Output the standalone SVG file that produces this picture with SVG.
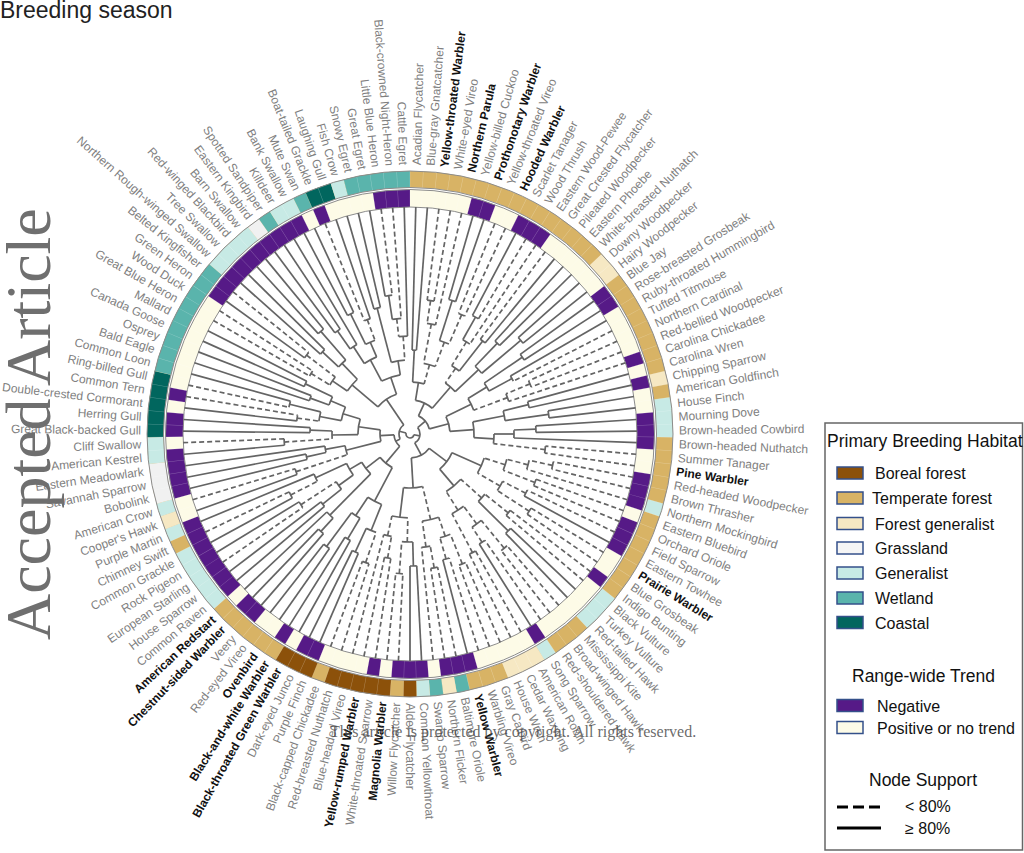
<svg xmlns="http://www.w3.org/2000/svg" width="1024" height="853" viewBox="0 0 1024 853">
<style>
text{font-family:"Liberation Sans",Arial,Helvetica,sans-serif}
.lb text{font-size:12px;fill:#808080;dominant-baseline:central}
.lb .b{fill:#111;font-weight:bold}
.lb .L{text-anchor:end}
.t path,.t circle{fill:none;stroke:#646464;stroke-width:1.7}
.t .d{stroke-dasharray:5 3}
.lg text{font-size:16px;fill:#111}
.lg .h{font-size:17.5px}
.lg .k{stroke:#34508a;stroke-width:1.5}
</style>
<rect width="1024" height="853" fill="#fff"/>
<text x="0" y="18" font-size="23" fill="#222">Breeding season</text>

<g id="rings" transform="translate(410 434) rotate(-90)" fill="none">
<circle r="254.75" stroke="#d8b365" stroke-width="16.5"/>
<g stroke-width="16.5">
<circle r="254.75" pathLength="123" stroke="#f6e8c3" stroke-dasharray="2 200" stroke-dashoffset="-16"/>
<circle r="254.75" pathLength="123" stroke="#f6e8c3" stroke-dasharray="1 200" stroke-dashoffset="-26"/>
<circle r="254.75" pathLength="123" stroke="#c7eae5" stroke-dasharray="3 200" stroke-dashoffset="-28"/>
<circle r="254.75" pathLength="123" stroke="#c7eae5" stroke-dasharray="1 200" stroke-dashoffset="-36"/>
<circle r="254.75" pathLength="123" stroke="#c7eae5" stroke-dasharray="3 200" stroke-dashoffset="-44"/>
<circle r="254.75" pathLength="123" stroke="#c7eae5" stroke-dasharray="1 200" stroke-dashoffset="-50"/>
<circle r="254.75" pathLength="123" stroke="#f6e8c3" stroke-dasharray="3 200" stroke-dashoffset="-51"/>
<circle r="254.75" pathLength="123" stroke="#5ab4ac" stroke-dasharray="1 200" stroke-dashoffset="-57"/>
<circle r="254.75" pathLength="123" stroke="#f6e8c3" stroke-dasharray="1 200" stroke-dashoffset="-58"/>
<circle r="254.75" pathLength="123" stroke="#5ab4ac" stroke-dasharray="1 200" stroke-dashoffset="-59"/>
<circle r="254.75" pathLength="123" stroke="#c7eae5" stroke-dasharray="1 200" stroke-dashoffset="-60"/>
<circle r="254.75" pathLength="123" stroke="#8c510a" stroke-dasharray="1 200" stroke-dashoffset="-61"/>
<circle r="254.75" pathLength="123" stroke="#8c510a" stroke-dasharray="5 200" stroke-dashoffset="-63"/>
<circle r="254.75" pathLength="123" stroke="#8c510a" stroke-dasharray="3 200" stroke-dashoffset="-69"/>
<circle r="254.75" pathLength="123" stroke="#c7eae5" stroke-dasharray="5 200" stroke-dashoffset="-78"/>
<circle r="254.75" pathLength="123" stroke="#c7eae5" stroke-dasharray="1 200" stroke-dashoffset="-84"/>
<circle r="254.75" pathLength="123" stroke="#f6e8c3" stroke-dasharray="1 200" stroke-dashoffset="-85"/>
<circle r="254.75" pathLength="123" stroke="#c7eae5" stroke-dasharray="1 200" stroke-dashoffset="-86"/>
<circle r="254.75" pathLength="123" stroke="#f1f1f1" stroke-dasharray="3 200" stroke-dashoffset="-87"/>
<circle r="254.75" pathLength="123" stroke="#c7eae5" stroke-dasharray="2 200" stroke-dashoffset="-90"/>
<circle r="254.75" pathLength="123" stroke="#01665e" stroke-dasharray="5 200" stroke-dashoffset="-92"/>
<circle r="254.75" pathLength="123" stroke="#5ab4ac" stroke-dasharray="9 200" stroke-dashoffset="-97"/>
<circle r="254.75" pathLength="123" stroke="#c7eae5" stroke-dasharray="4 200" stroke-dashoffset="-106"/>
<circle r="254.75" pathLength="123" stroke="#f1f1f1" stroke-dasharray="1 200" stroke-dashoffset="-110"/>
<circle r="254.75" pathLength="123" stroke="#5ab4ac" stroke-dasharray="1 200" stroke-dashoffset="-111"/>
<circle r="254.75" pathLength="123" stroke="#c7eae5" stroke-dasharray="2 200" stroke-dashoffset="-112"/>
<circle r="254.75" pathLength="123" stroke="#5ab4ac" stroke-dasharray="1 200" stroke-dashoffset="-114"/>
<circle r="254.75" pathLength="123" stroke="#01665e" stroke-dasharray="2 200" stroke-dashoffset="-115"/>
<circle r="254.75" pathLength="123" stroke="#c7eae5" stroke-dasharray="1 200" stroke-dashoffset="-117"/>
<circle r="254.75" pathLength="123" stroke="#5ab4ac" stroke-dasharray="5 200" stroke-dashoffset="-118"/>
</g>
<circle r="235.75" stroke="#fdfbe7" stroke-width="17.5"/>
<g stroke-width="17.5" stroke="#561a87">
<circle r="235.75" pathLength="123" stroke-dasharray="2 200" stroke-dashoffset="-5"/>
<circle r="235.75" pathLength="123" stroke-dasharray="3 200" stroke-dashoffset="-9"/>
<circle r="235.75" pathLength="123" stroke-dasharray="2 200" stroke-dashoffset="-18"/>
<circle r="235.75" pathLength="123" stroke-dasharray="1 200" stroke-dashoffset="-24"/>
<circle r="235.75" pathLength="123" stroke-dasharray="1 200" stroke-dashoffset="-26"/>
<circle r="235.75" pathLength="123" stroke-dasharray="3 200" stroke-dashoffset="-29"/>
<circle r="235.75" pathLength="123" stroke-dasharray="3 200" stroke-dashoffset="-34"/>
<circle r="235.75" pathLength="123" stroke-dasharray="3 200" stroke-dashoffset="-38"/>
<circle r="235.75" pathLength="123" stroke-dasharray="1 200" stroke-dashoffset="-43"/>
<circle r="235.75" pathLength="123" stroke-dasharray="1 200" stroke-dashoffset="-50"/>
<circle r="235.75" pathLength="123" stroke-dasharray="3 200" stroke-dashoffset="-56"/>
<circle r="235.75" pathLength="123" stroke-dasharray="3 200" stroke-dashoffset="-60"/>
<circle r="235.75" pathLength="123" stroke-dasharray="1 200" stroke-dashoffset="-64"/>
<circle r="235.75" pathLength="123" stroke-dasharray="2 200" stroke-dashoffset="-69"/>
<circle r="235.75" pathLength="123" stroke-dasharray="1 200" stroke-dashoffset="-72"/>
<circle r="235.75" pathLength="123" stroke-dasharray="2 200" stroke-dashoffset="-75"/>
<circle r="235.75" pathLength="123" stroke-dasharray="7 200" stroke-dashoffset="-78"/>
<circle r="235.75" pathLength="123" stroke-dasharray="4 200" stroke-dashoffset="-87"/>
<circle r="235.75" pathLength="123" stroke-dasharray="2 200" stroke-dashoffset="-92"/>
<circle r="235.75" pathLength="123" stroke-dasharray="1 200" stroke-dashoffset="-95"/>
<circle r="235.75" pathLength="123" stroke-dasharray="10 200" stroke-dashoffset="-104"/>
<circle r="235.75" pathLength="123" stroke-dasharray="1 200" stroke-dashoffset="-115"/>
<circle r="235.75" pathLength="123" stroke-dasharray="3 200" stroke-dashoffset="-120"/>
</g>
<circle r="254.75" pathLength="123" stroke="#fff" stroke-opacity=".3" stroke-width="16.5" stroke-dasharray="0.04 0.96" stroke-dashoffset="0.02"/>
<circle r="235.75" pathLength="123" stroke="#fff" stroke-opacity=".3" stroke-width="17.5" stroke-dasharray="0.04 0.96" stroke-dashoffset="0.02"/>
<g stroke="#8c8c8c" stroke-width="1">
<circle r="263"/><circle r="246.5"/><circle r="244.5"/><circle r="227"/>
</g>
</g>

<g id="connectors" class="t" transform="translate(410 434) rotate(1.4634)">
<g transform="rotate(-90)">
<circle r="84" pathLength="123" stroke-dasharray="1 200" stroke-dashoffset="0"/>
<circle r="135" pathLength="123" stroke-dasharray="1 200" stroke-dashoffset="-2"/>
<circle r="112" pathLength="123" stroke-dasharray="1.5 200" stroke-dashoffset="-2.5"/>
<circle r="140" pathLength="123" stroke-dasharray="1 200" stroke-dashoffset="-5"/>
<circle r="130" pathLength="123" stroke-dasharray="1 200" stroke-dashoffset="-7"/>
<circle r="98" pathLength="123" stroke-dasharray="2 200" stroke-dashoffset="-5.5"/>
<circle r="72" pathLength="123" stroke-dasharray="3.25 200" stroke-dashoffset="-3.25"/>
<circle r="52" pathLength="123" stroke-dasharray="4.375 200" stroke-dashoffset="-0.5"/>
<circle r="134" pathLength="123" stroke-dasharray="1 200" stroke-dashoffset="-9"/>
<circle r="108" pathLength="123" stroke-dasharray="1.5 200" stroke-dashoffset="-9.5"/>
<circle r="118" pathLength="123" stroke-dasharray="1 200" stroke-dashoffset="-12"/>
<circle r="80" pathLength="123" stroke-dasharray="2.25 200" stroke-dashoffset="-10.25"/>
<circle r="126" pathLength="123" stroke-dasharray="1 200" stroke-dashoffset="-14"/>
<circle r="145" pathLength="123" stroke-dasharray="1 200" stroke-dashoffset="-16"/>
<circle r="94" pathLength="123" stroke-dasharray="2 200" stroke-dashoffset="-14.5"/>
<circle r="62" pathLength="123" stroke-dasharray="4.125 200" stroke-dashoffset="-11.375"/>
<circle r="34" pathLength="123" stroke-dasharray="10.75 200" stroke-dashoffset="-2.6875"/>
<circle r="136" pathLength="123" stroke-dasharray="1 200" stroke-dashoffset="-18"/>
<circle r="116" pathLength="123" stroke-dasharray="1 200" stroke-dashoffset="-20"/>
<circle r="90" pathLength="123" stroke-dasharray="2 200" stroke-dashoffset="-18.5"/>
<circle r="130" pathLength="123" stroke-dasharray="1 200" stroke-dashoffset="-22"/>
<circle r="104" pathLength="123" stroke-dasharray="1.5 200" stroke-dashoffset="-22.5"/>
<circle r="68" pathLength="123" stroke-dasharray="3.75 200" stroke-dashoffset="-19.5"/>
<circle r="122" pathLength="123" stroke-dasharray="1 200" stroke-dashoffset="-25"/>
<circle r="140" pathLength="123" stroke-dasharray="1 200" stroke-dashoffset="-27"/>
<circle r="96" pathLength="123" stroke-dasharray="2 200" stroke-dashoffset="-25.5"/>
<circle r="126" pathLength="123" stroke-dasharray="1 200" stroke-dashoffset="-29"/>
<circle r="104" pathLength="123" stroke-dasharray="1.5 200" stroke-dashoffset="-29.5"/>
<circle r="136" pathLength="123" stroke-dasharray="1 200" stroke-dashoffset="-32"/>
<circle r="84" pathLength="123" stroke-dasharray="2.25 200" stroke-dashoffset="-30.25"/>
<circle r="64" pathLength="123" stroke-dasharray="4.875 200" stroke-dashoffset="-26.5"/>
<circle r="40" pathLength="123" stroke-dasharray="7.5625 200" stroke-dashoffset="-21.375"/>
<circle r="146" pathLength="123" stroke-dasharray="1 200" stroke-dashoffset="-34"/>
<circle r="122" pathLength="123" stroke-dasharray="1.5 200" stroke-dashoffset="-34.5"/>
<circle r="134" pathLength="123" stroke-dasharray="1 200" stroke-dashoffset="-37"/>
<circle r="100" pathLength="123" stroke-dasharray="2.25 200" stroke-dashoffset="-35.25"/>
<circle r="130" pathLength="123" stroke-dasharray="1 200" stroke-dashoffset="-39"/>
<circle r="142" pathLength="123" stroke-dasharray="1 200" stroke-dashoffset="-41"/>
<circle r="104" pathLength="123" stroke-dasharray="2 200" stroke-dashoffset="-39.5"/>
<circle r="78" pathLength="123" stroke-dasharray="4.125 200" stroke-dashoffset="-36.375"/>
<circle r="126" pathLength="123" stroke-dasharray="1 200" stroke-dashoffset="-43"/>
<circle r="138" pathLength="123" stroke-dasharray="1 200" stroke-dashoffset="-45"/>
<circle r="96" pathLength="123" stroke-dasharray="2 200" stroke-dashoffset="-43.5"/>
<circle r="148" pathLength="123" stroke-dasharray="1 200" stroke-dashoffset="-47"/>
<circle r="130" pathLength="123" stroke-dasharray="1 200" stroke-dashoffset="-49"/>
<circle r="112" pathLength="123" stroke-dasharray="2 200" stroke-dashoffset="-47.5"/>
<circle r="134" pathLength="123" stroke-dasharray="1 200" stroke-dashoffset="-51"/>
<circle r="90" pathLength="123" stroke-dasharray="3 200" stroke-dashoffset="-48.5"/>
<circle r="68" pathLength="123" stroke-dasharray="5.5 200" stroke-dashoffset="-44.5"/>
<circle r="46" pathLength="123" stroke-dasharray="8.8125 200" stroke-dashoffset="-38.4375"/>
<circle r="140" pathLength="123" stroke-dasharray="1 200" stroke-dashoffset="-53"/>
<circle r="130" pathLength="123" stroke-dasharray="1 200" stroke-dashoffset="-55"/>
<circle r="108" pathLength="123" stroke-dasharray="2 200" stroke-dashoffset="-53.5"/>
<circle r="136" pathLength="123" stroke-dasharray="1 200" stroke-dashoffset="-57"/>
<circle r="114" pathLength="123" stroke-dasharray="1.5 200" stroke-dashoffset="-57.5"/>
<circle r="88" pathLength="123" stroke-dasharray="3.75 200" stroke-dashoffset="-54.5"/>
<circle r="132" pathLength="123" stroke-dasharray="1 200" stroke-dashoffset="-60"/>
<circle r="140" pathLength="123" stroke-dasharray="1 200" stroke-dashoffset="-62"/>
<circle r="108" pathLength="123" stroke-dasharray="2 200" stroke-dashoffset="-60.5"/>
<circle r="126" pathLength="123" stroke-dasharray="1 200" stroke-dashoffset="-64"/>
<circle r="104" pathLength="123" stroke-dasharray="1.5 200" stroke-dashoffset="-64.5"/>
<circle r="84" pathLength="123" stroke-dasharray="3.75 200" stroke-dashoffset="-61.5"/>
<circle r="54" pathLength="123" stroke-dasharray="7 200" stroke-dashoffset="-56.375"/>
<circle r="136" pathLength="123" stroke-dasharray="1 200" stroke-dashoffset="-67"/>
<circle r="130" pathLength="123" stroke-dasharray="1 200" stroke-dashoffset="-69"/>
<circle r="104" pathLength="123" stroke-dasharray="2 200" stroke-dashoffset="-67.5"/>
<circle r="122" pathLength="123" stroke-dasharray="1 200" stroke-dashoffset="-71"/>
<circle r="140" pathLength="123" stroke-dasharray="1 200" stroke-dashoffset="-73"/>
<circle r="98" pathLength="123" stroke-dasharray="2 200" stroke-dashoffset="-71.5"/>
<circle r="76" pathLength="123" stroke-dasharray="4 200" stroke-dashoffset="-68.5"/>
<circle r="132" pathLength="123" stroke-dasharray="1 200" stroke-dashoffset="-75"/>
<circle r="114" pathLength="123" stroke-dasharray="1.5 200" stroke-dashoffset="-75.5"/>
<circle r="112" pathLength="123" stroke-dasharray="1 200" stroke-dashoffset="-78"/>
<circle r="130" pathLength="123" stroke-dasharray="1 200" stroke-dashoffset="-80"/>
<circle r="88" pathLength="123" stroke-dasharray="2 200" stroke-dashoffset="-78.5"/>
<circle r="134" pathLength="123" stroke-dasharray="1 200" stroke-dashoffset="-82"/>
<circle r="104" pathLength="123" stroke-dasharray="1.5 200" stroke-dashoffset="-82.5"/>
<circle r="70" pathLength="123" stroke-dasharray="3.75 200" stroke-dashoffset="-79.5"/>
<circle r="56" pathLength="123" stroke-dasharray="5.125 200" stroke-dashoffset="-76.25"/>
<circle r="38" pathLength="123" stroke-dasharray="8.3125 200" stroke-dashoffset="-70.5"/>
<circle r="120" pathLength="123" stroke-dasharray="1 200" stroke-dashoffset="-85"/>
<circle r="106" pathLength="123" stroke-dasharray="1 200" stroke-dashoffset="-87"/>
<circle r="86" pathLength="123" stroke-dasharray="1.5 200" stroke-dashoffset="-87.5"/>
<circle r="66" pathLength="123" stroke-dasharray="2.75 200" stroke-dashoffset="-85.5"/>
<circle r="126" pathLength="123" stroke-dasharray="1 200" stroke-dashoffset="-90"/>
<circle r="100" pathLength="123" stroke-dasharray="1 200" stroke-dashoffset="-92"/>
<circle r="78" pathLength="123" stroke-dasharray="2 200" stroke-dashoffset="-90.5"/>
<circle r="114" pathLength="123" stroke-dasharray="1 200" stroke-dashoffset="-94"/>
<circle r="124" pathLength="123" stroke-dasharray="1 200" stroke-dashoffset="-96"/>
<circle r="92" pathLength="123" stroke-dasharray="2 200" stroke-dashoffset="-94.5"/>
<circle r="106" pathLength="123" stroke-dasharray="1 200" stroke-dashoffset="-98"/>
<circle r="116" pathLength="123" stroke-dasharray="1 200" stroke-dashoffset="-100"/>
<circle r="86" pathLength="123" stroke-dasharray="2 200" stroke-dashoffset="-98.5"/>
<circle r="70" pathLength="123" stroke-dasharray="4 200" stroke-dashoffset="-95.5"/>
<circle r="52" pathLength="123" stroke-dasharray="6 200" stroke-dashoffset="-91.5"/>
<circle r="30" pathLength="123" stroke-dasharray="7.625 200" stroke-dashoffset="-86.875"/>
<circle r="116" pathLength="123" stroke-dasharray="1 200" stroke-dashoffset="-102"/>
<circle r="130" pathLength="123" stroke-dasharray="1 200" stroke-dashoffset="-104"/>
<circle r="94" pathLength="123" stroke-dasharray="2 200" stroke-dashoffset="-102.5"/>
<circle r="120" pathLength="123" stroke-dasharray="1 200" stroke-dashoffset="-106"/>
<circle r="136" pathLength="123" stroke-dasharray="1 200" stroke-dashoffset="-108"/>
<circle r="98" pathLength="123" stroke-dasharray="2 200" stroke-dashoffset="-106.5"/>
<circle r="76" pathLength="123" stroke-dasharray="4 200" stroke-dashoffset="-103.5"/>
<circle r="126" pathLength="123" stroke-dasharray="1 200" stroke-dashoffset="-110"/>
<circle r="104" pathLength="123" stroke-dasharray="1.5 200" stroke-dashoffset="-110.5"/>
<circle r="134" pathLength="123" stroke-dasharray="1 200" stroke-dashoffset="-113"/>
<circle r="122" pathLength="123" stroke-dasharray="1 200" stroke-dashoffset="-115"/>
<circle r="100" pathLength="123" stroke-dasharray="2 200" stroke-dashoffset="-113.5"/>
<circle r="84" pathLength="123" stroke-dasharray="3.25 200" stroke-dashoffset="-111.25"/>
<circle r="130" pathLength="123" stroke-dasharray="1 200" stroke-dashoffset="-117"/>
<circle r="140" pathLength="123" stroke-dasharray="1 200" stroke-dashoffset="-119"/>
<circle r="116" pathLength="123" stroke-dasharray="1.5 200" stroke-dashoffset="-119.5"/>
<circle r="98" pathLength="123" stroke-dasharray="1.75 200" stroke-dashoffset="-120.25"/>
<circle r="74" pathLength="123" stroke-dasharray="3.625 200" stroke-dashoffset="-117.5"/>
<circle r="60" pathLength="123" stroke-dasharray="6.4375 200" stroke-dashoffset="-112.875"/>
<circle r="42" pathLength="123" stroke-dasharray="10.59375 200" stroke-dashoffset="-105.5"/>
<circle r="20" pathLength="123" stroke-dasharray="17.09375 200" stroke-dashoffset="-8.0625"/>
<circle r="24" pathLength="123" stroke-dasharray="17.03125 200" stroke-dashoffset="-42.84375"/>
<circle r="10" pathLength="123" stroke-dasharray="34.75 200" stroke-dashoffset="-16.609375"/>
<circle r="16" pathLength="123" stroke-dasharray="16.03125 200" stroke-dashoffset="-74.65625"/>
<circle r="11" pathLength="123" stroke-dasharray="28.125 200" stroke-dashoffset="-82.671875"/>
<circle r="4" pathLength="123" stroke-dasharray="62.75 200" stroke-dashoffset="-33.984375"/>
</g>
<path d="M0-227V-84"/>
<path transform="rotate(2.927)" d="M0-227V-84"/>
<path class="d" transform="rotate(5.854)" d="M0-227V-135"/>
<path class="d" transform="rotate(8.780)" d="M0-227V-135"/>
<path class="d" transform="rotate(11.707)" d="M0-227V-112"/>
<path transform="rotate(14.634)" d="M0-227V-140"/>
<path transform="rotate(17.561)" d="M0-227V-140"/>
<path class="d" transform="rotate(20.488)" d="M0-227V-130"/>
<path class="d" transform="rotate(23.415)" d="M0-227V-130"/>
<path transform="rotate(26.341)" d="M0-227V-134"/>
<path class="d" transform="rotate(29.268)" d="M0-227V-134"/>
<path class="d" transform="rotate(32.195)" d="M0-227V-108"/>
<path class="d" transform="rotate(35.122)" d="M0-227V-118"/>
<path transform="rotate(38.049)" d="M0-227V-118"/>
<path transform="rotate(40.976)" d="M0-227V-126"/>
<path transform="rotate(43.902)" d="M0-227V-126"/>
<path transform="rotate(46.829)" d="M0-227V-145"/>
<path transform="rotate(49.756)" d="M0-227V-145"/>
<path transform="rotate(52.683)" d="M0-227V-136"/>
<path transform="rotate(55.610)" d="M0-227V-136"/>
<path transform="rotate(58.537)" d="M0-227V-116"/>
<path class="d" transform="rotate(61.463)" d="M0-227V-116"/>
<path class="d" transform="rotate(64.390)" d="M0-227V-130"/>
<path class="d" transform="rotate(67.317)" d="M0-227V-130"/>
<path class="d" transform="rotate(70.244)" d="M0-227V-104"/>
<path transform="rotate(73.171)" d="M0-227V-122"/>
<path transform="rotate(76.098)" d="M0-227V-122"/>
<path transform="rotate(79.024)" d="M0-227V-140"/>
<path transform="rotate(81.951)" d="M0-227V-140"/>
<path transform="rotate(84.878)" d="M0-227V-126"/>
<path transform="rotate(87.805)" d="M0-227V-126"/>
<path transform="rotate(90.732)" d="M0-227V-104"/>
<path class="d" transform="rotate(93.659)" d="M0-227V-136"/>
<path class="d" transform="rotate(96.585)" d="M0-227V-136"/>
<path class="d" transform="rotate(99.512)" d="M0-227V-146"/>
<path class="d" transform="rotate(102.439)" d="M0-227V-146"/>
<path class="d" transform="rotate(105.366)" d="M0-227V-122"/>
<path class="d" transform="rotate(108.293)" d="M0-227V-134"/>
<path class="d" transform="rotate(111.220)" d="M0-227V-134"/>
<path class="d" transform="rotate(114.146)" d="M0-227V-130"/>
<path transform="rotate(117.073)" d="M0-227V-130"/>
<path class="d" transform="rotate(120)" d="M0-227V-142"/>
<path class="d" transform="rotate(122.927)" d="M0-227V-142"/>
<path class="d" transform="rotate(125.854)" d="M0-227V-126"/>
<path class="d" transform="rotate(128.780)" d="M0-227V-126"/>
<path transform="rotate(131.707)" d="M0-227V-138"/>
<path transform="rotate(134.634)" d="M0-227V-138"/>
<path class="d" transform="rotate(137.561)" d="M0-227V-148"/>
<path class="d" transform="rotate(140.488)" d="M0-227V-148"/>
<path class="d" transform="rotate(143.415)" d="M0-227V-130"/>
<path transform="rotate(146.341)" d="M0-227V-130"/>
<path class="d" transform="rotate(149.268)" d="M0-227V-134"/>
<path class="d" transform="rotate(152.195)" d="M0-227V-134"/>
<path class="d" transform="rotate(155.122)" d="M0-227V-140"/>
<path class="d" transform="rotate(158.049)" d="M0-227V-140"/>
<path class="d" transform="rotate(160.976)" d="M0-227V-130"/>
<path transform="rotate(163.902)" d="M0-227V-130"/>
<path class="d" transform="rotate(166.829)" d="M0-227V-136"/>
<path class="d" transform="rotate(169.756)" d="M0-227V-136"/>
<path class="d" transform="rotate(172.683)" d="M0-227V-114"/>
<path transform="rotate(175.610)" d="M0-227V-132"/>
<path transform="rotate(178.537)" d="M0-227V-132"/>
<path class="d" transform="rotate(181.463)" d="M0-227V-140"/>
<path class="d" transform="rotate(184.390)" d="M0-227V-140"/>
<path class="d" transform="rotate(187.317)" d="M0-227V-126"/>
<path class="d" transform="rotate(190.244)" d="M0-227V-126"/>
<path class="d" transform="rotate(193.171)" d="M0-227V-104"/>
<path class="d" transform="rotate(196.098)" d="M0-227V-136"/>
<path class="d" transform="rotate(199.024)" d="M0-227V-136"/>
<path transform="rotate(201.951)" d="M0-227V-130"/>
<path transform="rotate(204.878)" d="M0-227V-130"/>
<path transform="rotate(207.805)" d="M0-227V-122"/>
<path transform="rotate(210.732)" d="M0-227V-122"/>
<path transform="rotate(213.659)" d="M0-227V-140"/>
<path transform="rotate(216.585)" d="M0-227V-140"/>
<path transform="rotate(219.512)" d="M0-227V-132"/>
<path transform="rotate(222.439)" d="M0-227V-132"/>
<path transform="rotate(225.366)" d="M0-227V-114"/>
<path transform="rotate(228.293)" d="M0-227V-112"/>
<path transform="rotate(231.220)" d="M0-227V-112"/>
<path class="d" transform="rotate(234.146)" d="M0-227V-130"/>
<path transform="rotate(237.073)" d="M0-227V-130"/>
<path transform="rotate(240)" d="M0-227V-134"/>
<path class="d" transform="rotate(242.927)" d="M0-227V-134"/>
<path transform="rotate(245.854)" d="M0-227V-104"/>
<path transform="rotate(248.780)" d="M0-227V-120"/>
<path class="d" transform="rotate(251.707)" d="M0-227V-120"/>
<path transform="rotate(254.634)" d="M0-227V-106"/>
<path transform="rotate(257.561)" d="M0-227V-106"/>
<path transform="rotate(260.488)" d="M0-227V-86"/>
<path transform="rotate(263.415)" d="M0-227V-126"/>
<path class="d" transform="rotate(266.341)" d="M0-227V-126"/>
<path transform="rotate(269.268)" d="M0-227V-100"/>
<path transform="rotate(272.195)" d="M0-227V-100"/>
<path transform="rotate(275.122)" d="M0-227V-114"/>
<path class="d" transform="rotate(278.049)" d="M0-227V-114"/>
<path class="d" transform="rotate(280.976)" d="M0-227V-124"/>
<path transform="rotate(283.902)" d="M0-227V-124"/>
<path transform="rotate(286.829)" d="M0-227V-106"/>
<path transform="rotate(289.756)" d="M0-227V-106"/>
<path transform="rotate(292.683)" d="M0-227V-116"/>
<path transform="rotate(295.610)" d="M0-227V-116"/>
<path class="d" transform="rotate(298.537)" d="M0-227V-116"/>
<path class="d" transform="rotate(301.463)" d="M0-227V-116"/>
<path transform="rotate(304.390)" d="M0-227V-130"/>
<path class="d" transform="rotate(307.317)" d="M0-227V-130"/>
<path transform="rotate(310.244)" d="M0-227V-120"/>
<path transform="rotate(313.171)" d="M0-227V-120"/>
<path transform="rotate(316.098)" d="M0-227V-136"/>
<path transform="rotate(319.024)" d="M0-227V-136"/>
<path transform="rotate(321.951)" d="M0-227V-126"/>
<path transform="rotate(324.878)" d="M0-227V-126"/>
<path transform="rotate(327.805)" d="M0-227V-104"/>
<path transform="rotate(330.732)" d="M0-227V-134"/>
<path transform="rotate(333.659)" d="M0-227V-134"/>
<path class="d" transform="rotate(336.585)" d="M0-227V-122"/>
<path transform="rotate(339.512)" d="M0-227V-122"/>
<path transform="rotate(342.439)" d="M0-227V-130"/>
<path transform="rotate(345.366)" d="M0-227V-130"/>
<path transform="rotate(348.293)" d="M0-227V-140"/>
<path class="d" transform="rotate(351.220)" d="M0-227V-140"/>
<path class="d" transform="rotate(354.146)" d="M0-227V-116"/>
<path transform="rotate(357.073)" d="M0-227V-98"/>

<path transform="rotate(1.4634)" d="M0-84V-52"/>
<path class="d" transform="rotate(7.3171)" d="M0-135V-112"/>
<path class="d" transform="rotate(9.5122)" d="M0-112V-72"/>
<path transform="rotate(16.0976)" d="M0-140V-98"/>
<path class="d" transform="rotate(21.9512)" d="M0-130V-98"/>
<path class="d" transform="rotate(19.0244)" d="M0-98V-72"/>
<path class="d" transform="rotate(14.2683)" d="M0-72V-52"/>
<path transform="rotate(7.8659)" d="M0-52V-34"/>
<path transform="rotate(27.8049)" d="M0-134V-108"/>
<path class="d" transform="rotate(30)" d="M0-108V-80"/>
<path transform="rotate(36.5854)" d="M0-118V-80"/>
<path class="d" transform="rotate(33.2927)" d="M0-80V-62"/>
<path transform="rotate(42.4390)" d="M0-126V-94"/>
<path transform="rotate(48.2927)" d="M0-145V-94"/>
<path transform="rotate(45.3659)" d="M0-94V-62"/>
<path transform="rotate(39.3293)" d="M0-62V-34"/>
<path transform="rotate(23.5976)" d="M0-34V-20"/>
<path transform="rotate(54.1463)" d="M0-136V-90"/>
<path transform="rotate(60)" d="M0-116V-90"/>
<path transform="rotate(57.0732)" d="M0-90V-68"/>
<path class="d" transform="rotate(65.8537)" d="M0-130V-104"/>
<path class="d" transform="rotate(68.0488)" d="M0-104V-68"/>
<path transform="rotate(62.5610)" d="M0-68V-40"/>
<path transform="rotate(74.6341)" d="M0-122V-96"/>
<path transform="rotate(80.4878)" d="M0-140V-96"/>
<path transform="rotate(77.5610)" d="M0-96V-64"/>
<path transform="rotate(86.3415)" d="M0-126V-104"/>
<path transform="rotate(88.5366)" d="M0-104V-84"/>
<path class="d" transform="rotate(95.1220)" d="M0-136V-84"/>
<path transform="rotate(91.8293)" d="M0-84V-64"/>
<path transform="rotate(84.6951)" d="M0-64V-40"/>
<path transform="rotate(73.6280)" d="M0-40V-20"/>
<path class="d" transform="rotate(100.9756)" d="M0-146V-122"/>
<path class="d" transform="rotate(103.1707)" d="M0-122V-100"/>
<path class="d" transform="rotate(109.7561)" d="M0-134V-100"/>
<path class="d" transform="rotate(106.4634)" d="M0-100V-78"/>
<path class="d" transform="rotate(115.6098)" d="M0-130V-104"/>
<path class="d" transform="rotate(121.4634)" d="M0-142V-104"/>
<path class="d" transform="rotate(118.5366)" d="M0-104V-78"/>
<path transform="rotate(112.5)" d="M0-78V-46"/>
<path class="d" transform="rotate(127.3171)" d="M0-126V-96"/>
<path transform="rotate(133.1707)" d="M0-138V-96"/>
<path class="d" transform="rotate(130.2439)" d="M0-96V-68"/>
<path class="d" transform="rotate(139.0244)" d="M0-148V-112"/>
<path class="d" transform="rotate(144.8780)" d="M0-130V-112"/>
<path class="d" transform="rotate(141.9512)" d="M0-112V-90"/>
<path class="d" transform="rotate(150.7317)" d="M0-134V-90"/>
<path class="d" transform="rotate(146.3415)" d="M0-90V-68"/>
<path transform="rotate(138.2927)" d="M0-68V-46"/>
<path transform="rotate(125.3963)" d="M0-46V-24"/>
<path class="d" transform="rotate(156.5854)" d="M0-140V-108"/>
<path class="d" transform="rotate(162.4390)" d="M0-130V-108"/>
<path class="d" transform="rotate(159.5122)" d="M0-108V-88"/>
<path class="d" transform="rotate(168.2927)" d="M0-136V-114"/>
<path class="d" transform="rotate(170.4878)" d="M0-114V-88"/>
<path class="d" transform="rotate(165)" d="M0-88V-54"/>
<path transform="rotate(177.0732)" d="M0-132V-108"/>
<path class="d" transform="rotate(182.9268)" d="M0-140V-108"/>
<path class="d" transform="rotate(180)" d="M0-108V-84"/>
<path class="d" transform="rotate(188.7805)" d="M0-126V-104"/>
<path class="d" transform="rotate(190.9756)" d="M0-104V-84"/>
<path transform="rotate(185.4878)" d="M0-84V-54"/>
<path transform="rotate(175.2439)" d="M0-54V-24"/>
<path class="d" transform="rotate(197.5610)" d="M0-136V-104"/>
<path transform="rotate(203.4146)" d="M0-130V-104"/>
<path transform="rotate(200.4878)" d="M0-104V-76"/>
<path transform="rotate(209.2683)" d="M0-122V-98"/>
<path transform="rotate(215.1220)" d="M0-140V-98"/>
<path transform="rotate(212.1951)" d="M0-98V-76"/>
<path transform="rotate(206.3415)" d="M0-76V-38"/>
<path transform="rotate(220.9756)" d="M0-132V-114"/>
<path transform="rotate(223.1707)" d="M0-114V-56"/>
<path transform="rotate(229.7561)" d="M0-112V-88"/>
<path class="d" transform="rotate(235.6098)" d="M0-130V-88"/>
<path transform="rotate(232.6829)" d="M0-88V-70"/>
<path class="d" transform="rotate(241.4634)" d="M0-134V-104"/>
<path transform="rotate(243.6585)" d="M0-104V-70"/>
<path transform="rotate(238.1707)" d="M0-70V-56"/>
<path transform="rotate(230.6707)" d="M0-56V-38"/>
<path transform="rotate(218.5061)" d="M0-38V-16"/>
<path class="d" transform="rotate(250.2439)" d="M0-120V-66"/>
<path transform="rotate(256.0976)" d="M0-106V-86"/>
<path transform="rotate(258.2927)" d="M0-86V-66"/>
<path transform="rotate(254.2683)" d="M0-66V-30"/>
<path class="d" transform="rotate(264.8780)" d="M0-126V-78"/>
<path transform="rotate(270.7317)" d="M0-100V-78"/>
<path transform="rotate(267.8049)" d="M0-78V-52"/>
<path class="d" transform="rotate(276.5854)" d="M0-114V-92"/>
<path transform="rotate(282.4390)" d="M0-124V-92"/>
<path transform="rotate(279.5122)" d="M0-92V-70"/>
<path transform="rotate(288.2927)" d="M0-106V-86"/>
<path transform="rotate(294.1463)" d="M0-116V-86"/>
<path transform="rotate(291.2195)" d="M0-86V-70"/>
<path transform="rotate(285.3659)" d="M0-70V-52"/>
<path transform="rotate(276.5854)" d="M0-52V-30"/>
<path transform="rotate(265.4268)" d="M0-30V-16"/>
<path class="d" transform="rotate(300)" d="M0-116V-94"/>
<path class="d" transform="rotate(305.8537)" d="M0-130V-94"/>
<path transform="rotate(302.9268)" d="M0-94V-76"/>
<path transform="rotate(311.7073)" d="M0-120V-98"/>
<path transform="rotate(317.5610)" d="M0-136V-98"/>
<path transform="rotate(314.6341)" d="M0-98V-76"/>
<path transform="rotate(308.7805)" d="M0-76V-42"/>
<path transform="rotate(323.4146)" d="M0-126V-104"/>
<path transform="rotate(325.6098)" d="M0-104V-84"/>
<path transform="rotate(332.1951)" d="M0-134V-100"/>
<path class="d" transform="rotate(338.0488)" d="M0-122V-100"/>
<path transform="rotate(335.1220)" d="M0-100V-84"/>
<path transform="rotate(330.3659)" d="M0-84V-60"/>
<path transform="rotate(343.9024)" d="M0-130V-74"/>
<path transform="rotate(349.7561)" d="M0-140V-116"/>
<path class="d" transform="rotate(351.9512)" d="M0-116V-98"/>
<path class="d" transform="rotate(354.5122)" d="M0-98V-74"/>
<path transform="rotate(349.2073)" d="M0-74V-60"/>
<path transform="rotate(339.7866)" d="M0-60V-42"/>
<path transform="rotate(324.2835)" d="M0-42V-11"/>
<path transform="rotate(48.6128)" d="M0-20V-10"/>
<path transform="rotate(150.3201)" d="M0-24V-10"/>
<path transform="rotate(99.4665)" d="M0-10V-4"/>
<path transform="rotate(241.9665)" d="M0-16V-11"/>
<path transform="rotate(283.1250)" d="M0-11V-4"/>
</g>

<g id="labels" class="lb" transform="translate(410 434) rotate(1.4634)">
<g id="sp0"><text transform="rotate(-90)" x="269">Acadian Flycatcher</text></g>
<g id="sp1"><text transform="rotate(-87.073)" x="269">Blue-gray Gnatcatcher</text></g>
<g id="sp2"><text class="b" transform="rotate(-84.146)" x="269">Yellow-throated Warbler</text></g>
<g id="sp3"><text transform="rotate(-81.22)" x="269">White-eyed Vireo</text></g>
<g id="sp4"><text class="b" transform="rotate(-78.293)" x="269">Northern Parula</text></g>
<g id="sp5"><text transform="rotate(-75.366)" x="269">Yellow-billed Cuckoo</text></g>
<g id="sp6"><text class="b" transform="rotate(-72.439)" x="269">Prothonotary Warbler</text></g>
<g id="sp7"><text transform="rotate(-69.512)" x="269">Yellow-throated Vireo</text></g>
<g id="sp8"><text class="b" transform="rotate(-66.585)" x="269">Hooded Warbler</text></g>
<g id="sp9"><text transform="rotate(-63.659)" x="269">Scarlet Tanager</text></g>
<g id="sp10"><text transform="rotate(-60.732)" x="269">Wood Thrush</text></g>
<g id="sp11"><text transform="rotate(-57.805)" x="269">Eastern Wood-Pewee</text></g>
<g id="sp12"><text transform="rotate(-54.878)" x="269">Great Crested Flycatcher</text></g>
<g id="sp13"><text transform="rotate(-51.951)" x="269">Pileated Woodpecker</text></g>
<g id="sp14"><text transform="rotate(-49.024)" x="269">Eastern Phoebe</text></g>
<g id="sp15"><text transform="rotate(-46.098)" x="269">White-breasted Nuthatch</text></g>
<g id="sp16"><text transform="rotate(-43.171)" x="269">Downy Woodpecker</text></g>
<g id="sp17"><text transform="rotate(-40.244)" x="269">Hairy Woodpecker</text></g>
<g id="sp18"><text transform="rotate(-37.317)" x="269">Blue Jay</text></g>
<g id="sp19"><text transform="rotate(-34.39)" x="269">Rose-breasted Grosbeak</text></g>
<g id="sp20"><text transform="rotate(-31.463)" x="269">Ruby-throated Hummingbird</text></g>
<g id="sp21"><text transform="rotate(-28.537)" x="269">Tufted Titmouse</text></g>
<g id="sp22"><text transform="rotate(-25.61)" x="269">Northern Cardinal</text></g>
<g id="sp23"><text transform="rotate(-22.683)" x="269">Red-bellied Woodpecker</text></g>
<g id="sp24"><text transform="rotate(-19.756)" x="269">Carolina Chickadee</text></g>
<g id="sp25"><text transform="rotate(-16.829)" x="269">Carolina Wren</text></g>
<g id="sp26"><text transform="rotate(-13.902)" x="269">Chipping Sparrow</text></g>
<g id="sp27"><text transform="rotate(-10.976)" x="269">American Goldfinch</text></g>
<g id="sp28"><text transform="rotate(-8.049)" x="269">House Finch</text></g>
<g id="sp29"><text transform="rotate(-5.122)" x="269">Mourning Dove</text></g>
<g id="sp30"><text transform="rotate(-2.195)" x="269">Brown-headed Cowbird</text></g>
<g id="sp31"><text transform="rotate(0.732)" x="269">Brown-headed Nuthatch</text></g>
<g id="sp32"><text transform="rotate(3.659)" x="269">Summer Tanager</text></g>
<g id="sp33"><text class="b" transform="rotate(6.585)" x="269">Pine Warbler</text></g>
<g id="sp34"><text transform="rotate(9.512)" x="269">Red-headed Woodpecker</text></g>
<g id="sp35"><text transform="rotate(12.439)" x="269">Brown Thrasher</text></g>
<g id="sp36"><text transform="rotate(15.366)" x="269">Northern Mockingbird</text></g>
<g id="sp37"><text transform="rotate(18.293)" x="269">Eastern Bluebird</text></g>
<g id="sp38"><text transform="rotate(21.22)" x="269">Orchard Oriole</text></g>
<g id="sp39"><text transform="rotate(24.146)" x="269">Field Sparrow</text></g>
<g id="sp40"><text transform="rotate(27.073)" x="269">Eastern Towhee</text></g>
<g id="sp41"><text class="b" transform="rotate(30)" x="269">Prairie Warbler</text></g>
<g id="sp42"><text transform="rotate(32.927)" x="269">Blue Grosbeak</text></g>
<g id="sp43"><text transform="rotate(35.854)" x="269">Indigo Bunting</text></g>
<g id="sp44"><text transform="rotate(38.78)" x="269">Black Vulture</text></g>
<g id="sp45"><text transform="rotate(41.707)" x="269">Turkey Vulture</text></g>
<g id="sp46"><text transform="rotate(44.634)" x="269">Red-tailed Hawk</text></g>
<g id="sp47"><text transform="rotate(47.561)" x="269">Mississippi Kite</text></g>
<g id="sp48"><text transform="rotate(50.488)" x="269">Broad-winged Hawk</text></g>
<g id="sp49"><text transform="rotate(53.415)" x="269">Red-shouldered Hawk</text></g>
<g id="sp50"><text transform="rotate(56.341)" x="269">Song Sparrow</text></g>
<g id="sp51"><text transform="rotate(59.268)" x="269">American Robin</text></g>
<g id="sp52"><text transform="rotate(62.195)" x="269">Cedar Waxwing</text></g>
<g id="sp53"><text transform="rotate(65.122)" x="269">House Wren</text></g>
<g id="sp54"><text transform="rotate(68.049)" x="269">Gray Catbird</text></g>
<g id="sp55"><text transform="rotate(70.976)" x="269">Warbling Vireo</text></g>
<g id="sp56"><text class="b" transform="rotate(73.902)" x="269">Yellow Warbler</text></g>
<g id="sp57"><text transform="rotate(76.829)" x="269">Baltimore Oriole</text></g>
<g id="sp58"><text transform="rotate(79.756)" x="269">Northern Flicker</text></g>
<g id="sp59"><text transform="rotate(82.683)" x="269">Swamp Sparrow</text></g>
<g id="sp60"><text transform="rotate(85.61)" x="269">Common Yellowthroat</text></g>
<g id="sp61"><text transform="rotate(88.537)" x="269">Alder Flycatcher</text></g>
<g id="sp62"><text class="L" transform="rotate(-88.537)" x="-269">Willow Flycatcher</text></g>
<g id="sp63"><text class="b L" transform="rotate(-85.61)" x="-269">Magnolia Warbler</text></g>
<g id="sp64"><text class="L" transform="rotate(-82.683)" x="-269">White-throated Sparrow</text></g>
<g id="sp65"><text class="b L" transform="rotate(-79.756)" x="-269">Yellow-rumped Warbler</text></g>
<g id="sp66"><text class="L" transform="rotate(-76.829)" x="-269">Blue-headed Vireo</text></g>
<g id="sp67"><text class="L" transform="rotate(-73.902)" x="-269">Red-breasted Nuthatch</text></g>
<g id="sp68"><text class="L" transform="rotate(-70.976)" x="-269">Black-capped Chickadee</text></g>
<g id="sp69"><text class="L" transform="rotate(-68.049)" x="-269">Purple Finch</text></g>
<g id="sp70"><text class="L" transform="rotate(-65.122)" x="-269">Dark-eyed Junco</text></g>
<g id="sp71"><text class="b L" transform="rotate(-62.195)" x="-269">Black-throated Green Warbler</text></g>
<g id="sp72"><text class="b L" transform="rotate(-59.268)" x="-269">Black-and-white Warbler</text></g>
<g id="sp73"><text class="b L" transform="rotate(-56.341)" x="-269">Ovenbird</text></g>
<g id="sp74"><text class="L" transform="rotate(-53.415)" x="-269">Red-eyed Vireo</text></g>
<g id="sp75"><text class="L" transform="rotate(-50.488)" x="-269">Veery</text></g>
<g id="sp76"><text class="b L" transform="rotate(-47.561)" x="-269">Chestnut-sided Warbler</text></g>
<g id="sp77"><text class="b L" transform="rotate(-44.634)" x="-269">American Redstart</text></g>
<g id="sp78"><text class="L" transform="rotate(-41.707)" x="-269">Common Raven</text></g>
<g id="sp79"><text class="L" transform="rotate(-38.78)" x="-269">House Sparrow</text></g>
<g id="sp80"><text class="L" transform="rotate(-35.854)" x="-269">European Starling</text></g>
<g id="sp81"><text class="L" transform="rotate(-32.927)" x="-269">Rock Pigeon</text></g>
<g id="sp82"><text class="L" transform="rotate(-30)" x="-269">Common Grackle</text></g>
<g id="sp83"><text class="L" transform="rotate(-27.073)" x="-269">Chimney Swift</text></g>
<g id="sp84"><text class="L" transform="rotate(-24.146)" x="-269">Purple Martin</text></g>
<g id="sp85"><text class="L" transform="rotate(-21.22)" x="-269">Cooper's Hawk</text></g>
<g id="sp86"><text class="L" transform="rotate(-18.293)" x="-269">American Crow</text></g>
<g id="sp87"><text class="L" transform="rotate(-15.366)" x="-269">Bobolink</text></g>
<g id="sp88"><text class="L" transform="rotate(-12.439)" x="-269">Savannah Sparrow</text></g>
<g id="sp89"><text class="L" transform="rotate(-9.512)" x="-269">Eastern Meadowlark</text></g>
<g id="sp90"><text class="L" transform="rotate(-6.585)" x="-269">American Kestrel</text></g>
<g id="sp91"><text class="L" transform="rotate(-3.659)" x="-269">Cliff Swallow</text></g>
<g id="sp92"><text class="L" transform="rotate(-0.732)" x="-269">Great Black-backed Gull</text></g>
<g id="sp93"><text class="L" transform="rotate(2.195)" x="-269">Herring Gull</text></g>
<g id="sp94"><text class="L" transform="rotate(5.122)" x="-269">Double-crested Cormorant</text></g>
<g id="sp95"><text class="L" transform="rotate(8.049)" x="-269">Common Tern</text></g>
<g id="sp96"><text class="L" transform="rotate(10.976)" x="-269">Ring-billed Gull</text></g>
<g id="sp97"><text class="L" transform="rotate(13.902)" x="-269">Common Loon</text></g>
<g id="sp98"><text class="L" transform="rotate(16.829)" x="-269">Bald Eagle</text></g>
<g id="sp99"><text class="L" transform="rotate(19.756)" x="-269">Osprey</text></g>
<g id="sp100"><text class="L" transform="rotate(22.683)" x="-269">Canada Goose</text></g>
<g id="sp101"><text class="L" transform="rotate(25.61)" x="-269">Mallard</text></g>
<g id="sp102"><text class="L" transform="rotate(28.537)" x="-269">Great Blue Heron</text></g>
<g id="sp103"><text class="L" transform="rotate(31.463)" x="-269">Wood Duck</text></g>
<g id="sp104"><text class="L" transform="rotate(34.39)" x="-269">Green Heron</text></g>
<g id="sp105"><text class="L" transform="rotate(37.317)" x="-269">Belted Kingfisher</text></g>
<g id="sp106"><text class="L" transform="rotate(40.244)" x="-269">Northern Rough-winged Swallow</text></g>
<g id="sp107"><text class="L" transform="rotate(43.171)" x="-269">Tree Swallow</text></g>
<g id="sp108"><text class="L" transform="rotate(46.098)" x="-269">Red-winged Blackbird</text></g>
<g id="sp109"><text class="L" transform="rotate(49.024)" x="-269">Barn Swallow</text></g>
<g id="sp110"><text class="L" transform="rotate(51.951)" x="-269">Eastern Kingbird</text></g>
<g id="sp111"><text class="L" transform="rotate(54.878)" x="-269">Spotted Sandpiper</text></g>
<g id="sp112"><text class="L" transform="rotate(57.805)" x="-269">Killdeer</text></g>
<g id="sp113"><text class="L" transform="rotate(60.732)" x="-269">Bank Swallow</text></g>
<g id="sp114"><text class="L" transform="rotate(63.659)" x="-269">Mute Swan</text></g>
<g id="sp115"><text class="L" transform="rotate(66.585)" x="-269">Boat-tailed Grackle</text></g>
<g id="sp116"><text class="L" transform="rotate(69.512)" x="-269">Laughing Gull</text></g>
<g id="sp117"><text class="L" transform="rotate(72.439)" x="-269">Fish Crow</text></g>
<g id="sp118"><text class="L" transform="rotate(75.366)" x="-269">Snowy Egret</text></g>
<g id="sp119"><text class="L" transform="rotate(78.293)" x="-269">Great Egret</text></g>
<g id="sp120"><text class="L" transform="rotate(81.22)" x="-269">Little Blue Heron</text></g>
<g id="sp121"><text class="L" transform="rotate(84.146)" x="-269">Black-crowned Night-Heron</text></g>
<g id="sp122"><text class="L" transform="rotate(87.073)" x="-269">Cattle Egret</text></g>
</g>

<g id="legend" class="lg">
<rect x="825" y="423" width="197.5" height="427" fill="#fff" stroke="#666" stroke-width="1.5"/>
<text class="h" x="827" y="447">Primary Breeding Habitat</text>
<rect class="k" x="837" y="467" width="26" height="12" fill="#8c510a"/><text x="875" y="479">Boreal forest</text>
<rect class="k" x="837" y="492" width="26" height="12" fill="#d8b365"/><text x="872" y="504">Temperate forest</text>
<rect class="k" x="837" y="517.5" width="26" height="12" fill="#f6e8c3"/><text x="875" y="529.5">Forest generalist</text>
<rect class="k" x="837" y="542" width="26" height="12" fill="#f5f5f5"/><text x="875" y="554">Grassland</text>
<rect class="k" x="837" y="567" width="26" height="12" fill="#c7eae5"/><text x="875" y="579">Generalist</text>
<rect class="k" x="837" y="592" width="26" height="12" fill="#5ab4ac"/><text x="875" y="604">Wetland</text>
<rect class="k" x="837" y="616.5" width="26" height="12" fill="#01665e"/><text x="875" y="628.5">Coastal</text>
<text class="h" x="852" y="682">Range-wide Trend</text>
<rect class="k" x="837" y="699.5" width="26" height="12" fill="#561a87"/><text x="877" y="711.5">Negative</text>
<rect class="k" x="837" y="721.5" width="26" height="12" fill="#fdfbe7"/><text x="877" y="733.5">Positive or no trend</text>
<text class="h" x="869" y="786">Node Support</text>
<path d="M837 807H880" stroke="#000" stroke-width="3" stroke-dasharray="11 5"/>
<path d="M837 828H881" stroke="#000" stroke-width="3"/>
<text x="905" y="812">&lt; 80%</text>
<text x="905" y="834">≥ 80%</text>
</g>

<text transform="translate(50 640) rotate(-90)" font-size="64" fill="#6f6f6f" style="font-family:'Liberation Serif',serif">Accepted Article</text>
<text x="330" y="737" font-size="16" fill="#444" fill-opacity=".8" style="font-family:'Liberation Serif',serif">This article is protected by copyright. All rights reserved.</text>
</svg>
